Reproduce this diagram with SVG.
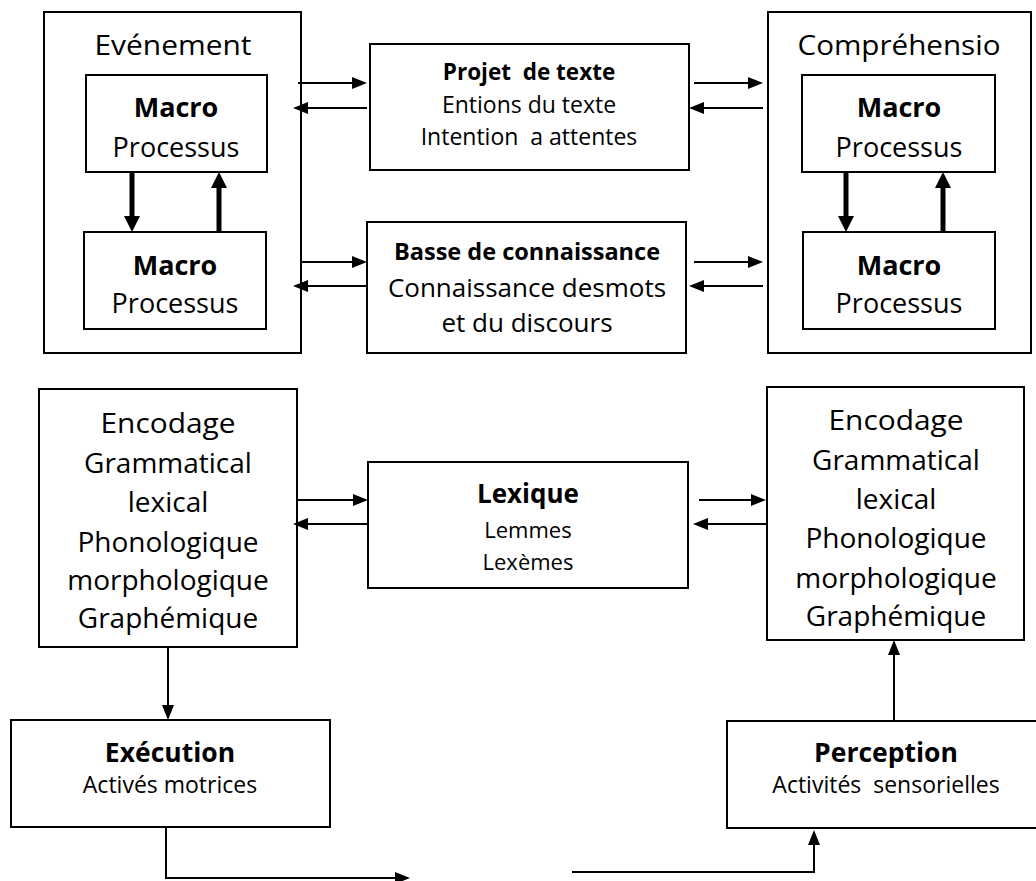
<svg xmlns="http://www.w3.org/2000/svg" width="1036" height="881" viewBox="0 0 1036 881">
  <style>
    .box { fill: #fff; stroke: #000; stroke-width: 2; }
    .t { font-family: "Open Sans", "Noto Sans", sans-serif; fill: #000; text-anchor: middle; }
    .lg { font-size: 28px; }
    .mac { font-size: 27px; }
    .b { font-weight: bold; }
    .ln { fill: none; stroke: #000; stroke-width: 2; }
    .thick { fill: none; stroke: #000; stroke-width: 5; }
  </style>
  <defs>
    <marker id="ah" viewBox="0 0 15 12" refX="1" refY="6" markerWidth="15" markerHeight="12" markerUnits="userSpaceOnUse" orient="auto">
      <path d="M0,0 L15,6 L0,12 Z" fill="#000"/>
    </marker>
    <marker id="ahb" viewBox="0 0 16 16" refX="1" refY="8" markerWidth="16" markerHeight="16" markerUnits="userSpaceOnUse" orient="auto">
      <path d="M0,0 L16,8 L0,16 Z" fill="#000"/>
    </marker>
  </defs>

  <!-- Evénement container -->
  <g id="evenement">
    <rect class="box" x="44" y="12" width="257" height="341"/>
    <text class="t lg" x="173" y="55" textLength="157" lengthAdjust="spacingAndGlyphs">Evénement</text>
  </g>
  <g id="ev-macro-1">
    <rect class="box" x="86" y="75" width="181" height="97"/>
    <text class="t mac b" x="176" y="117">Macro</text>
    <text class="t mac" x="176" y="157">Processus</text>
  </g>
  <g id="ev-macro-2">
    <rect class="box" x="84" y="232" width="182" height="97"/>
    <text class="t mac b" x="175" y="275">Macro</text>
    <text class="t mac" x="175" y="313">Processus</text>
  </g>

  <!-- Projet de texte -->
  <g id="projet">
    <rect class="box" x="370" y="44" width="319" height="126"/>
    <text class="t b" x="529" y="80" font-size="22.5" xml:space="preserve">Projet  de texte</text>
    <text class="t" x="529" y="113" font-size="23">Entions du texte</text>
    <text class="t" x="529" y="145" font-size="23" xml:space="preserve">Intention  a attentes</text>
  </g>

  <!-- Basse de connaissance -->
  <g id="basse">
    <rect class="box" x="367" y="222" width="319" height="131"/>
    <text class="t b" x="527" y="260" font-size="23.5">Basse de connaissance</text>
    <text class="t" x="527" y="297" font-size="26">Connaissance desmots</text>
    <text class="t" x="527" y="332" font-size="26">et du discours</text>
  </g>

  <!-- Compréhension container -->
  <g id="comprehension">
    <rect class="box" x="768" y="12" width="263" height="341"/>
    <text class="t lg" x="899" y="55" textLength="203" lengthAdjust="spacingAndGlyphs">Compréhensio</text>
  </g>
  <g id="co-macro-1">
    <rect class="box" x="802" y="75" width="193" height="97"/>
    <text class="t mac b" x="899" y="117">Macro</text>
    <text class="t mac" x="899" y="157">Processus</text>
  </g>
  <g id="co-macro-2">
    <rect class="box" x="803" y="232" width="192" height="97"/>
    <text class="t mac b" x="899" y="275">Macro</text>
    <text class="t mac" x="899" y="313">Processus</text>
  </g>

  <!-- Encodage (left) -->
  <g id="encodage-left">
    <rect class="box" x="39" y="389" width="258" height="258"/>
    <text class="t lg" x="168" y="433" textLength="135" lengthAdjust="spacingAndGlyphs">Encodage</text>
    <text class="t lg" x="168" y="473">Grammatical</text>
    <text class="t lg" x="168" y="512">lexical</text>
    <text class="t lg" x="168" y="552">Phonologique</text>
    <text class="t lg" x="168" y="590">morphologique</text>
    <text class="t lg" x="168" y="628">Graphémique</text>
  </g>

  <!-- Lexique -->
  <g id="lexique">
    <rect class="box" x="368" y="462" width="320" height="126"/>
    <text class="t b" x="528" y="503" font-size="26">Lexique</text>
    <text class="t" x="528" y="538" font-size="22">Lemmes</text>
    <text class="t" x="528" y="570" font-size="22">Lexèmes</text>
  </g>

  <!-- Encodage (right) -->
  <g id="encodage-right">
    <rect class="box" x="767" y="387" width="257" height="253"/>
    <text class="t lg" x="896" y="430" textLength="135" lengthAdjust="spacingAndGlyphs">Encodage</text>
    <text class="t lg" x="896" y="470">Grammatical</text>
    <text class="t lg" x="896" y="509">lexical</text>
    <text class="t lg" x="896" y="548">Phonologique</text>
    <text class="t lg" x="896" y="588">morphologique</text>
    <text class="t lg" x="896" y="626">Graphémique</text>
  </g>

  <!-- Exécution -->
  <g id="execution">
    <rect class="box" x="11" y="720" width="319" height="107"/>
    <text class="t b" x="170" y="762" font-size="26.5">Exécution</text>
    <text class="t" x="170" y="793" font-size="23">Activés motrices</text>
  </g>

  <!-- Perception -->
  <g id="perception">
    <rect class="box" x="727" y="721" width="320" height="107"/>
    <text class="t b" x="886" y="762" font-size="26.5">Perception</text>
    <text class="t" x="886" y="793" font-size="23" xml:space="preserve">Activités  sensorielles</text>
  </g>

  <!-- Connectors -->
  <g id="connectors">
    <line class="ln" x1="298" y1="83" x2="353" y2="83" marker-end="url(#ah)"/>
    <line class="ln" x1="367" y1="108" x2="307" y2="108" marker-end="url(#ah)"/>
    <line class="ln" x1="694" y1="83" x2="749" y2="83" marker-end="url(#ah)"/>
    <line class="ln" x1="763" y1="108" x2="703" y2="108" marker-end="url(#ah)"/>

    <line class="ln" x1="301" y1="262" x2="353" y2="262" marker-end="url(#ah)"/>
    <line class="ln" x1="367" y1="286" x2="307" y2="286" marker-end="url(#ah)"/>
    <line class="ln" x1="694" y1="262" x2="749" y2="262" marker-end="url(#ah)"/>
    <line class="ln" x1="763" y1="286" x2="703" y2="286" marker-end="url(#ah)"/>

    <line class="ln" x1="298" y1="500" x2="354" y2="500" marker-end="url(#ah)"/>
    <line class="ln" x1="368" y1="524" x2="307" y2="524" marker-end="url(#ah)"/>
    <line class="ln" x1="699" y1="500" x2="752" y2="500" marker-end="url(#ah)"/>
    <line class="ln" x1="766" y1="524" x2="707" y2="524" marker-end="url(#ah)"/>

    <line class="ln" x1="168" y1="647" x2="168" y2="706" marker-end="url(#ah)"/>
    <polyline class="ln" points="166,827 166,878 396,878" marker-end="url(#ah)"/>
    <polyline class="ln" points="572,872 814,872 814,844" marker-end="url(#ah)"/>
    <line class="ln" x1="894" y1="720" x2="894" y2="654" marker-end="url(#ah)"/>

    <line class="thick" x1="132" y1="172" x2="132" y2="217" marker-end="url(#ahb)"/>
    <line class="thick" x1="219" y1="232" x2="219" y2="187" marker-end="url(#ahb)"/>
    <line class="thick" x1="846" y1="172" x2="846" y2="217" marker-end="url(#ahb)"/>
    <line class="thick" x1="943" y1="232" x2="943" y2="187" marker-end="url(#ahb)"/>
  </g>
</svg>
